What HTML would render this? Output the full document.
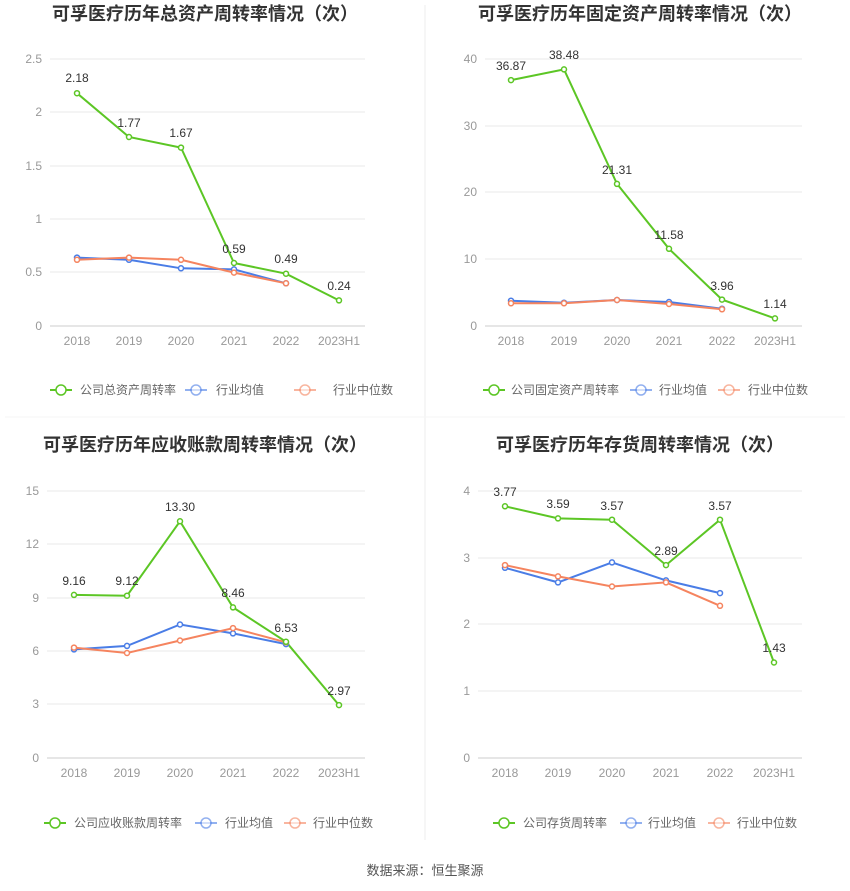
<!DOCTYPE html>
<html><head><meta charset="utf-8"><style>
body{margin:0;background:#fff}
svg{display:block;font-family:"Liberation Sans","Noto Sans CJK SC",sans-serif}
.t{font-size:18px;font-weight:bold;fill:#333;text-anchor:middle}
.ax{font-size:12px;fill:#999}
.yl{text-anchor:end}
.xl{text-anchor:middle}
.v{font-size:12px;fill:#333;text-anchor:middle}
.lg{font-size:12px;fill:#666}
.g{stroke:#e8e8e8;stroke-width:1}
.a{stroke:#ccc;stroke-width:1}
.G{stroke:#5cc625;fill:none;stroke-width:2}
.B{stroke:#4a7de6;fill:none;stroke-width:2}
.O{stroke:#f5845f;fill:none;stroke-width:2}
.pG{fill:#fff;stroke:#5cc625;stroke-width:1.5}
.pB{fill:#fff;stroke:#4a7de6;stroke-width:1.5}
.pO{fill:#fff;stroke:#f5845f;stroke-width:1.5}
</style></head><body>
<svg width="850" height="891" viewBox="0 0 850 891">
<line x1="425" y1="5" x2="425" y2="840" stroke="#eee"/>
<line x1="5" y1="417" x2="845" y2="417" stroke="#f6f6f6"/>

<!-- Chart 1 -->
<text class="t" x="205" y="20">可孚医疗历年总资产周转率情况（次）</text>
<g class="g"><line x1="50" y1="59" x2="365" y2="59"/><line x1="50" y1="112" x2="365" y2="112"/><line x1="50" y1="166" x2="365" y2="166"/><line x1="50" y1="219" x2="365" y2="219"/><line x1="50" y1="272" x2="365" y2="272"/></g>
<line class="a" x1="50" y1="326" x2="365" y2="326"/>
<g class="ax yl"><text x="42" y="63">2.5</text><text x="42" y="116">2</text><text x="42" y="170">1.5</text><text x="42" y="223">1</text><text x="42" y="276">0.5</text><text x="42" y="330">0</text></g>
<g class="ax xl"><text x="77" y="345">2018</text><text x="129" y="345">2019</text><text x="181" y="345">2020</text><text x="234" y="345">2021</text><text x="286" y="345">2022</text><text x="339" y="345">2023H1</text></g>
<polyline class="B" points="77,257.6 129,259.8 181,268.3 234,269.4 286,283.3"/>
<polyline class="O" points="77,259.8 129,257.6 181,259.8 234,272.6 286,283.3"/>
<polyline class="G" points="77,93.2 129,137 181,147.6 234,263 286,273.7 339,300.4"/>
<g class="pB"><circle cx="77" cy="257.6" r="2.5"/><circle cx="129" cy="259.8" r="2.5"/><circle cx="181" cy="268.3" r="2.5"/><circle cx="234" cy="269.4" r="2.5"/><circle cx="286" cy="283.3" r="2.5"/></g>
<g class="pO"><circle cx="77" cy="259.8" r="2.5"/><circle cx="129" cy="257.6" r="2.5"/><circle cx="181" cy="259.8" r="2.5"/><circle cx="234" cy="272.6" r="2.5"/><circle cx="286" cy="283.3" r="2.5"/></g>
<g class="pG"><circle cx="77" cy="93.2" r="2.5"/><circle cx="129" cy="137" r="2.5"/><circle cx="181" cy="147.6" r="2.5"/><circle cx="234" cy="263" r="2.5"/><circle cx="286" cy="273.7" r="2.5"/><circle cx="339" cy="300.4" r="2.5"/></g>
<g class="v"><text x="77" y="82">2.18</text><text x="129" y="127">1.77</text><text x="181" y="137">1.67</text><text x="234" y="253">0.59</text><text x="286" y="263">0.49</text><text x="339" y="290">0.24</text></g>
<g><line class="G" x1="50" y1="390" x2="72" y2="390"/><circle class="pG" cx="61" cy="390" r="5"/><text class="lg" x="80" y="394">公司总资产周转率</text>
<line class="B" x1="185" y1="390" x2="207" y2="390" opacity=".6"/><circle class="pB" cx="196" cy="390" r="5" opacity=".6"/><text class="lg" x="216" y="394">行业均值</text>
<line class="O" x1="294" y1="390" x2="316" y2="390" opacity=".6"/><circle class="pO" cx="305" cy="390" r="5" opacity=".6"/><text class="lg" x="333" y="394">行业中位数</text></g>

<!-- Chart 2 -->
<text class="t" x="640" y="20">可孚医疗历年固定资产周转率情况（次）</text>
<g class="g"><line x1="485" y1="59" x2="802" y2="59"/><line x1="485" y1="126" x2="802" y2="126"/><line x1="485" y1="192" x2="802" y2="192"/><line x1="485" y1="259" x2="802" y2="259"/></g>
<line class="a" x1="485" y1="326" x2="802" y2="326"/>
<g class="ax yl"><text x="477" y="63">40</text><text x="477" y="130">30</text><text x="477" y="196">20</text><text x="477" y="263">10</text><text x="477" y="330">0</text></g>
<g class="ax xl"><text x="511" y="345">2018</text><text x="564" y="345">2019</text><text x="617" y="345">2020</text><text x="669" y="345">2021</text><text x="722" y="345">2022</text><text x="775" y="345">2023H1</text></g>
<polyline class="B" points="511,300.7 564,302.7 617,300 669,302 722,308.7"/>
<polyline class="O" points="511,303.3 564,303.3 617,300 669,304 722,309.3"/>
<polyline class="G" points="511,80.1 564,69.4 617,183.9 669,248.8 722,299.6 775,318.4"/>
<g class="pB"><circle cx="511" cy="300.7" r="2.5"/><circle cx="564" cy="302.7" r="2.5"/><circle cx="617" cy="300" r="2.5"/><circle cx="669" cy="302" r="2.5"/><circle cx="722" cy="308.7" r="2.5"/></g>
<g class="pO"><circle cx="511" cy="303.3" r="2.5"/><circle cx="564" cy="303.3" r="2.5"/><circle cx="617" cy="300" r="2.5"/><circle cx="669" cy="304" r="2.5"/><circle cx="722" cy="309.3" r="2.5"/></g>
<g class="pG"><circle cx="511" cy="80.1" r="2.5"/><circle cx="564" cy="69.4" r="2.5"/><circle cx="617" cy="183.9" r="2.5"/><circle cx="669" cy="248.8" r="2.5"/><circle cx="722" cy="299.6" r="2.5"/><circle cx="775" cy="318.4" r="2.5"/></g>
<g class="v"><text x="511" y="70">36.87</text><text x="564" y="59">38.48</text><text x="617" y="174">21.31</text><text x="669" y="239">11.58</text><text x="722" y="290">3.96</text><text x="775" y="308">1.14</text></g>
<g><line class="G" x1="483" y1="390" x2="505" y2="390"/><circle class="pG" cx="494" cy="390" r="5"/><text class="lg" x="511" y="394">公司固定资产周转率</text>
<line class="B" x1="630" y1="390" x2="652" y2="390" opacity=".6"/><circle class="pB" cx="641" cy="390" r="5" opacity=".6"/><text class="lg" x="659" y="394">行业均值</text>
<line class="O" x1="718" y1="390" x2="740" y2="390" opacity=".6"/><circle class="pO" cx="729" cy="390" r="5" opacity=".6"/><text class="lg" x="748" y="394">行业中位数</text></g>

<!-- Chart 3 -->
<text class="t" x="205" y="451">可孚医疗历年应收账款周转率情况（次）</text>
<g class="g"><line x1="47" y1="491" x2="365" y2="491"/><line x1="47" y1="544" x2="365" y2="544"/><line x1="47" y1="598" x2="365" y2="598"/><line x1="47" y1="651" x2="365" y2="651"/><line x1="47" y1="704" x2="365" y2="704"/></g>
<line class="a" x1="47" y1="758" x2="365" y2="758"/>
<g class="ax yl"><text x="39" y="495">15</text><text x="39" y="548">12</text><text x="39" y="602">9</text><text x="39" y="655">6</text><text x="39" y="708">3</text><text x="39" y="762">0</text></g>
<g class="ax xl"><text x="74" y="777">2018</text><text x="127" y="777">2019</text><text x="180" y="777">2020</text><text x="233" y="777">2021</text><text x="286" y="777">2022</text><text x="339" y="777">2023H1</text></g>
<polyline class="B" points="74,649.4 127,645.9 180,624.5 233,633.4 286,644.1"/>
<polyline class="O" points="74,647.6 127,653 180,640.5 233,628.1 286,642.3"/>
<polyline class="G" points="74,594.9 127,595.7 180,521.3 233,607.4 286,641.8 339,705.1"/>
<g class="pB"><circle cx="74" cy="649.4" r="2.5"/><circle cx="127" cy="645.9" r="2.5"/><circle cx="180" cy="624.5" r="2.5"/><circle cx="233" cy="633.4" r="2.5"/><circle cx="286" cy="644.1" r="2.5"/></g>
<g class="pO"><circle cx="74" cy="647.6" r="2.5"/><circle cx="127" cy="653" r="2.5"/><circle cx="180" cy="640.5" r="2.5"/><circle cx="233" cy="628.1" r="2.5"/><circle cx="286" cy="642.3" r="2.5"/></g>
<g class="pG"><circle cx="74" cy="594.9" r="2.5"/><circle cx="127" cy="595.7" r="2.5"/><circle cx="180" cy="521.3" r="2.5"/><circle cx="233" cy="607.4" r="2.5"/><circle cx="286" cy="641.8" r="2.5"/><circle cx="339" cy="705.1" r="2.5"/></g>
<g class="v"><text x="74" y="585">9.16</text><text x="127" y="585">9.12</text><text x="180" y="511">13.30</text><text x="233" y="597">8.46</text><text x="286" y="632">6.53</text><text x="339" y="695">2.97</text></g>
<g><line class="G" x1="44" y1="823" x2="66" y2="823"/><circle class="pG" cx="55" cy="823" r="5"/><text class="lg" x="74" y="827">公司应收账款周转率</text>
<line class="B" x1="195" y1="823" x2="217" y2="823" opacity=".6"/><circle class="pB" cx="206" cy="823" r="5" opacity=".6"/><text class="lg" x="225" y="827">行业均值</text>
<line class="O" x1="284" y1="823" x2="306" y2="823" opacity=".6"/><circle class="pO" cx="295" cy="823" r="5" opacity=".6"/><text class="lg" x="313" y="827">行业中位数</text></g>

<!-- Chart 4 -->
<text class="t" x="640" y="451">可孚医疗历年存货周转率情况（次）</text>
<g class="g"><line x1="478" y1="491" x2="802" y2="491"/><line x1="478" y1="558" x2="802" y2="558"/><line x1="478" y1="624" x2="802" y2="624"/><line x1="478" y1="691" x2="802" y2="691"/></g>
<line class="a" x1="478" y1="758" x2="802" y2="758"/>
<g class="ax yl"><text x="470" y="495">4</text><text x="470" y="562">3</text><text x="470" y="628">2</text><text x="470" y="695">1</text><text x="470" y="762">0</text></g>
<g class="ax xl"><text x="505" y="777">2018</text><text x="558" y="777">2019</text><text x="612" y="777">2020</text><text x="666" y="777">2021</text><text x="720" y="777">2022</text><text x="774" y="777">2023H1</text></g>
<polyline class="B" points="505,567.8 558,582.4 612,562.4 666,580.4 720,593.1"/>
<polyline class="O" points="505,565.1 558,576.4 612,586.5 666,582.4 720,605.8"/>
<polyline class="G" points="505,506.3 558,518.4 612,519.7 666,565.1 720,519.7 774,662.5"/>
<g class="pB"><circle cx="505" cy="567.8" r="2.5"/><circle cx="558" cy="582.4" r="2.5"/><circle cx="612" cy="562.4" r="2.5"/><circle cx="666" cy="580.4" r="2.5"/><circle cx="720" cy="593.1" r="2.5"/></g>
<g class="pO"><circle cx="505" cy="565.1" r="2.5"/><circle cx="558" cy="576.4" r="2.5"/><circle cx="612" cy="586.5" r="2.5"/><circle cx="666" cy="582.4" r="2.5"/><circle cx="720" cy="605.8" r="2.5"/></g>
<g class="pG"><circle cx="505" cy="506.3" r="2.5"/><circle cx="558" cy="518.4" r="2.5"/><circle cx="612" cy="519.7" r="2.5"/><circle cx="666" cy="565.1" r="2.5"/><circle cx="720" cy="519.7" r="2.5"/><circle cx="774" cy="662.5" r="2.5"/></g>
<g class="v"><text x="505" y="496">3.77</text><text x="558" y="508">3.59</text><text x="612" y="510">3.57</text><text x="666" y="555">2.89</text><text x="720" y="510">3.57</text><text x="774" y="652">1.43</text></g>
<g><line class="G" x1="493" y1="823" x2="515" y2="823"/><circle class="pG" cx="504" cy="823" r="5"/><text class="lg" x="523" y="827">公司存货周转率</text>
<line class="B" x1="620" y1="823" x2="642" y2="823" opacity=".6"/><circle class="pB" cx="631" cy="823" r="5" opacity=".6"/><text class="lg" x="648" y="827">行业均值</text>
<line class="O" x1="708" y1="823" x2="730" y2="823" opacity=".6"/><circle class="pO" cx="719" cy="823" r="5" opacity=".6"/><text class="lg" x="737" y="827">行业中位数</text></g>

<text x="425" y="875" style="font-size:13px;fill:#555;text-anchor:middle">数据来源：恒生聚源</text>
</svg>
</body></html>
